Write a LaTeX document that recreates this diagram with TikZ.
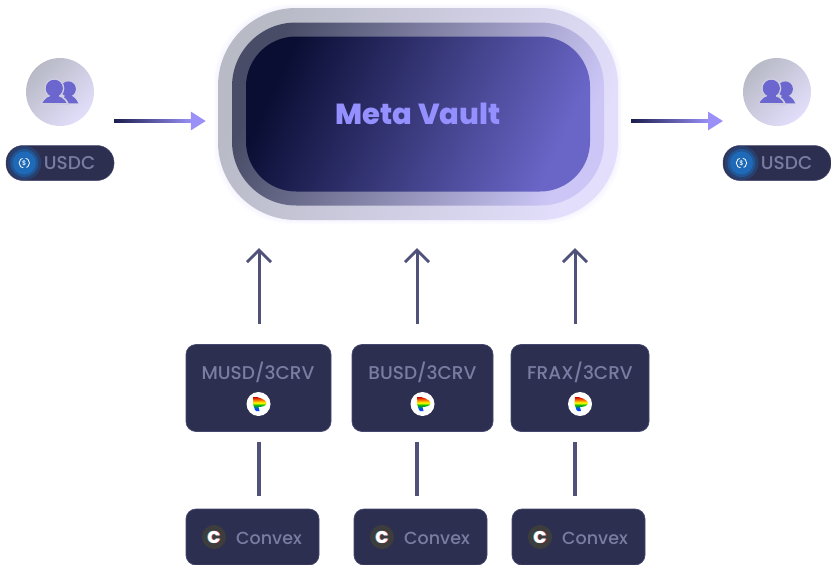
\documentclass[tikz,border=0pt]{standalone}
\usepackage{fontspec}
\setmainfont{Poppins}[UprightFont=* Medium]
\usetikzlibrary{positioning,arrows.meta}
\definecolor{boxfill}{HTML}{2D2F50}
\definecolor{boxline}{HTML}{45476F}
\definecolor{boxtext}{HTML}{7A7CA2}
\definecolor{linkline}{HTML}{505279}
\definecolor{iconfill}{HTML}{6C67CF}
\definecolor{tipfill}{HTML}{9A90F8}
\definecolor{shaftdark}{HTML}{1B1E4E}
\definecolor{vaulttext}{HTML}{9590FF}
\definecolor{outerleft}{HTML}{B8BAC6}
\definecolor{outerright}{HTML}{E2DEFB}
\definecolor{midleft}{HTML}{484C66}
\definecolor{midright}{HTML}{CBC6F6}
\definecolor{innerleft}{HTML}{0A0E33}
\definecolor{innerright}{HTML}{6A66C8}
\definecolor{discgap}{HTML}{CDCDDF}
\definecolor{coinblue}{HTML}{1E6AB8}
\pgfdeclareverticalshading{curveshade}{100bp}{color(0bp)=(blue!80!cyan); color(36bp)=(blue!70!cyan); color(46bp)=(green!70!black); color(54bp)=(yellow); color(62bp)=(orange); color(72bp)=(red!80!black); color(100bp)=(red!80!black)}
\tikzset{
  glowring/.style={draw=none, fill=tipfill!25, opacity=0.13, inner sep=0pt},
  vaultouter/.style={rounded corners=78pt, inner sep=0pt, minimum width=400pt, minimum height=212pt, left color=outerleft, right color=outerright, shading angle=65},
  vaultmid/.style={rounded corners=64pt, inner sep=0pt, minimum width=372pt, minimum height=183pt, left color=midleft, right color=midright, shading angle=65},
  vaultinner/.style={rounded corners=50pt, inner sep=0pt, minimum width=344pt, minimum height=155pt, left color=innerleft, right color=innerright, shading angle=65, text=vaulttext, font=\fontsize{29}{30}\selectfont\bfseries},
  userdisc/.style={circle, inner sep=0pt, minimum size=68pt, left color=outerleft, right color=outerright, shading angle=45},
  pill/.style={rounded corners=17pt, inner sep=0pt, minimum width=108pt, minimum height=35pt, fill=boxfill, draw=boxline, line width=0.5pt},
  pooltext/.style={text=boxtext, inner sep=0pt, font=\fontsize{18.5}{18}\selectfont},
  convextext/.style={text=boxtext, inner sep=0pt, font=\fontsize{17.5}{18}\selectfont},
  poolbox/.style={rounded corners=10pt, inner sep=0pt, minimum height=87pt, fill=boxfill, draw=boxline, line width=0.7pt},
  convexbox/.style={rounded corners=10pt, inner sep=0pt, minimum width=133pt, minimum height=56pt, fill=boxfill, draw=boxline, line width=0.7pt},
  uplink/.style={draw=linkline, line width=3pt, -{Straight Barb[length=12pt,width=24pt,line width=2.8pt]}},
  downlink/.style={draw=linkline, line width=3.2pt},
  flow/.style={draw=tipfill, line width=3pt, -{Triangle[length=15pt,width=18pt]}},
  pics/users/.style={code={
    \fill[iconfill] (8.3,-3) circle (7.6pt);
    \fill[iconfill] (1,11.3) .. controls (3,4) and (6,3) .. (8.3,3) .. controls (12,3) and (16,6) .. (18.3,11.3) -- cycle;
    \fill[iconfill, draw=discgap, line width=1.6pt] (-5.7,-3.7) circle (9.2pt);
    \fill[iconfill, draw=discgap, line width=1.6pt] (-19,12) .. controls (-16,5) and (-12,3) .. (-5.7,3) .. controls (0,3) and (5,5) .. (8,12) -- cycle;
    \fill[iconfill] (-5.7,-3.7) circle (8.5pt);
    \fill[iconfill] (-10,2) rectangle (-1,6);
  }},
  pics/coin/.style={code={
    \fill[coinblue, opacity=0.3] (0,0) circle (17pt);
    \fill[coinblue, opacity=0.5] (0,0) circle (14pt);
    \fill[coinblue] (0,0) circle (11.5pt);
    \draw[white, line width=0.8pt, dash pattern=on 13pt off 3.3pt, dash phase=6.5pt] (0,0) circle (5.2pt);
    \node[text=white, inner sep=0pt, font=\fontsize{6.5}{7}\selectfont] (-dollar) at (0,0) {\$};
  }},
  pics/curve/.style={code={
    \fill[white] (0,0) circle (12pt);
    \shade[shading=curveshade] (-5,-7) .. controls (-1,-8) and (8,-4) .. (8,-1) .. controls (8,2) and (3,3) .. (0,3) -- (1,7) .. controls (-1,8) and (-3,7) .. (-3.5,6) -- (-5.5,0) -- cycle;
  }},
  pics/convexlogo/.style={code={
    \fill[black!76] (0,0) circle (12pt);
    \node[text=cyan!70, inner sep=0pt, font=\fontsize{17}{17}\selectfont\bfseries] (-back) at (-0.8,0) {C};
    \node[text=red!70, inner sep=0pt, font=\fontsize{17}{17}\selectfont\bfseries] (-side) at (0.7,0.5) {C};
    \node[text=white, inner sep=0pt, font=\fontsize{17}{17}\selectfont\bfseries] (-front) at (0,0) {C};
  }},
}
\begin{document}
\begin{tikzpicture}[x=1pt,y=-1pt]
\useasboundingbox (0,0) rectangle (831,565);
% glow around the vault
\foreach \g in {8,5,2}
  \node[glowring, rounded corners=78pt, minimum width=400pt+\g pt, minimum height=212pt+\g pt] (glow\g) at (418,114) {};
\node[vaultouter] (vaultout) at (418,114) {};
\node[vaultmid] (vaultmiddle) at (418,114) {};
\node[vaultinner] (vault) at (418,114) {Meta Vault};

% left and right users
\node[userdisc] (userin) at (60,92) {};
\pic (usersin) at (userin.center) {users};
\node[pill] (pillin) at (60,163) {};
\pic (coinin) at (24.3,163) {coin};
\node[pooltext, right=0pt of pillin.west, xshift=38pt] (usdcin) {USDC};
\node[userdisc] (userout) at (777,92) {};
\pic (usersout) at (userout.center) {users};
\node[pill] (pillout) at (777,163) {};
\pic (coinout) at (741.5,163) {coin};
\node[pooltext, right=0pt of pillout.west, xshift=38pt] (usdcout) {USDC};

% flow arrows
\coordinate (flowin) at (114,121);
\coordinate (flowout) at (723,121);
\draw[flow, shorten >=12pt] (flowin) -- (flowin -| vaultout.west);
\shade[left color=shaftdark, right color=tipfill] (flowin)+(0,-1.5) rectangle (192,122.5);
\draw[flow, shorten <=13pt] (flowout -| vaultout.east) -- (flowout);
\shade[left color=shaftdark, right color=tipfill] (631,119.5) rectangle (709,122.5);

% pools
\node[poolbox, minimum width=145pt] (musd) at (258.5,388) {};
\node[poolbox, minimum width=141pt] (busd) at (422.5,388) {};
\node[poolbox, minimum width=138pt] (frax) at (580,388) {};
\node[pooltext] (musdtext) at (258,372) {MUSD/3CRV};
\node[pooltext] (busdtext) at (422.5,372) {BUSD/3CRV};
\node[pooltext] (fraxtext) at (580,372) {FRAX/3CRV};
\pic (curvea) at (258.5,404) {curve};
\pic (curveb) at (422.5,404) {curve};
\pic (curvec) at (580,404) {curve};

% convex boxes
\node[convexbox] (convexa) at (252.5,537) {};
\node[convexbox] (convexb) at (420.5,537) {};
\node[convexbox] (convexc) at (578.5,537) {};
\node[convextext] (convexatext) at (269,538) {Convex};
\node[convextext] (convexbtext) at (437,538) {Convex};
\node[convextext] (convexctext) at (595,538) {Convex};
\pic (logoa) at (214,537) {convexlogo};
\pic (logob) at (382,537) {convexlogo};
\pic (logoc) at (540,537) {convexlogo};

% links
\coordinate (linka) at (259,0);
\coordinate (linkb) at (417,0);
\coordinate (linkc) at (575,0);
\draw[uplink, shorten <=20pt, shorten >=28pt] (linka |- musd.north) -- (linka |- vaultout.south);
\draw[uplink, shorten <=20pt, shorten >=28pt] (linkb |- busd.north) -- (linkb |- vaultout.south);
\draw[uplink, shorten <=20pt, shorten >=28pt] (linkc |- frax.north) -- (linkc |- vaultout.south);
\draw[downlink, shorten <=10pt, shorten >=13pt] (linka |- musd.south) -- (linka |- convexa.north);
\draw[downlink, shorten <=10pt, shorten >=13pt] (linkb |- busd.south) -- (linkb |- convexb.north);
\draw[downlink, shorten <=10pt, shorten >=13pt] (linkc |- frax.south) -- (linkc |- convexc.north);
\end{tikzpicture}
\end{document}
